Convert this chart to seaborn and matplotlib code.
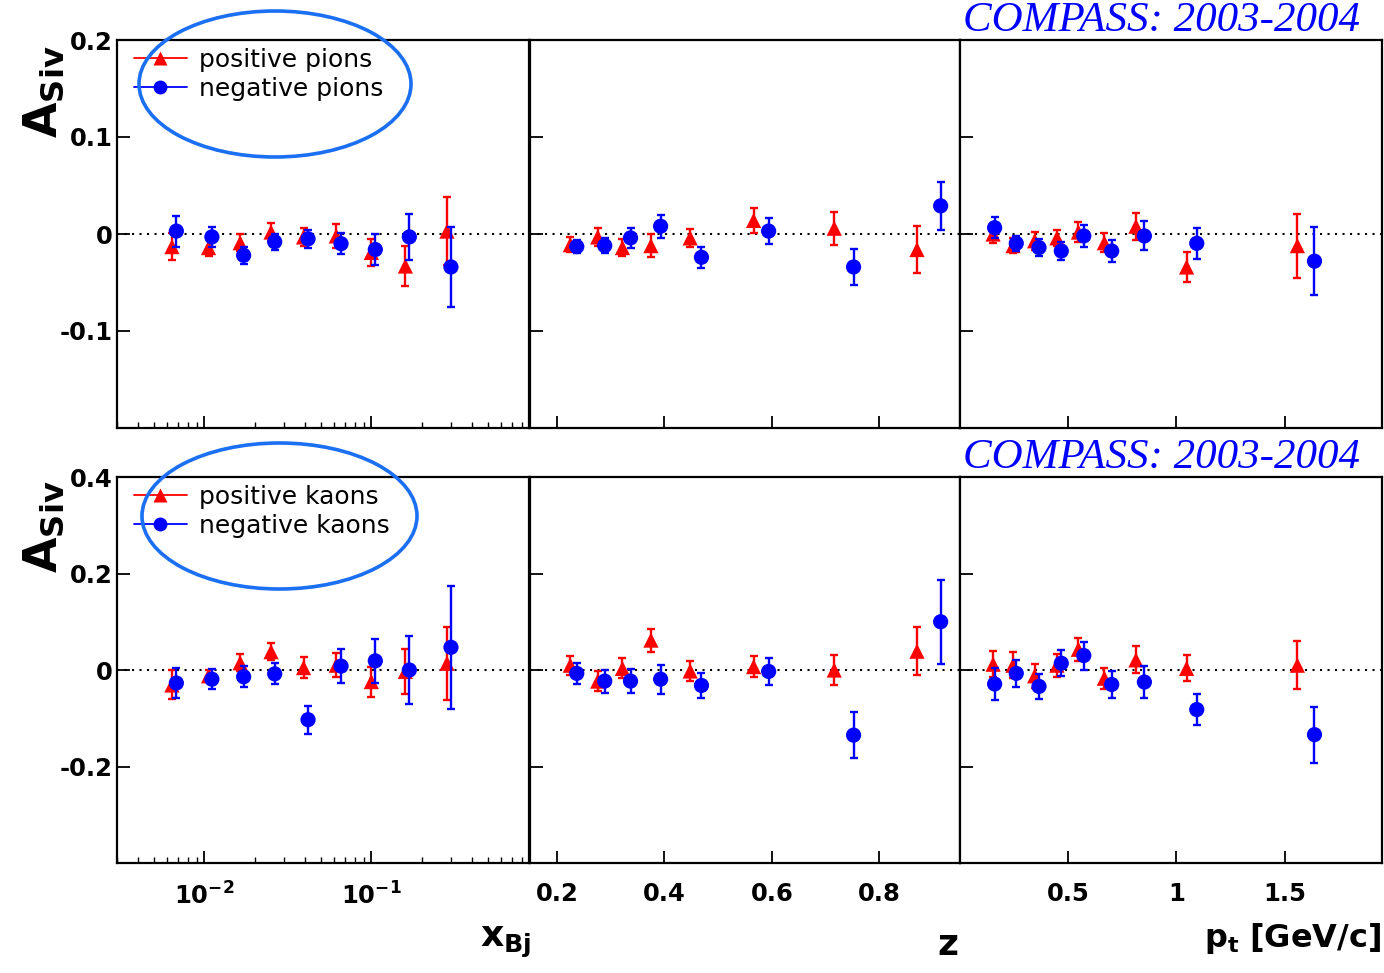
import numpy as np
import pandas as pd
import matplotlib
matplotlib.use("Agg")
import matplotlib.pyplot as plt
import seaborn as sns
from matplotlib.patches import Ellipse
from matplotlib.lines import Line2D
from matplotlib.ticker import LogLocator, FixedLocator, NullFormatter

# ---------------- data ----------------
# bin centres (positive hadrons / negative hadrons slightly shifted)
xbj_pos = [0.0064, 0.0106, 0.0164, 0.0251, 0.0393, 0.0617, 0.100, 0.160, 0.284]
xbj_neg = [0.0068, 0.0111, 0.0172, 0.0264, 0.0418, 0.0659, 0.1057, 0.169, 0.300]
z_pos = [0.225, 0.276, 0.322, 0.375, 0.448, 0.566, 0.716, 0.870]
z_neg = [0.237, 0.289, 0.337, 0.393, 0.469, 0.594, 0.752, 0.914]
pt_pos = [0.153, 0.245, 0.345, 0.448, 0.547, 0.667, 0.813, 1.047, 1.559]
pt_neg = [0.160, 0.260, 0.365, 0.468, 0.572, 0.701, 0.852, 1.094, 1.638]

# pions
pip_xbj = [-0.013, -0.014, -0.009, 0.002, -0.003, -0.002, -0.019, -0.033, 0.003]
pip_xbj_err = [0.014, 0.009, 0.009, 0.009, 0.009, 0.012, 0.014, 0.021, 0.035]
pim_xbj = [0.003, -0.003, -0.022, -0.008, -0.005, -0.010, -0.016, -0.003, -0.034]
pim_xbj_err = [0.016, 0.010, 0.009, 0.008, 0.009, 0.011, 0.016, 0.024, 0.041]

pip_z = [-0.011, -0.003, -0.014, -0.012, -0.004, 0.014, 0.006, -0.016]
pip_z_err = [0.008, 0.009, 0.009, 0.012, 0.009, 0.013, 0.017, 0.024]
pim_z = [-0.013, -0.012, -0.004, 0.008, -0.024, 0.003, -0.034, 0.029]
pim_z_err = [0.0065, 0.008, 0.010, 0.012, 0.011, 0.013, 0.019, 0.025]

pip_pt = [0.000, -0.012, -0.007, -0.004, 0.002, -0.009, 0.008, -0.034, -0.012]
pip_pt_err = [0.009, 0.008, 0.009, 0.008, 0.010, 0.010, 0.014, 0.015, 0.033]
pim_pt = [0.0065, -0.0096, -0.014, -0.0175, -0.002, -0.0175, -0.002, -0.0096, -0.028]
pim_pt_err = [0.011, 0.008, 0.009, 0.009, 0.011, 0.011, 0.015, 0.016, 0.035]

# kaons
kp_xbj = [-0.031, -0.012, 0.015, 0.038, 0.005, 0.010, -0.024, -0.003, 0.014]
kp_xbj_err = [0.030, 0.013, 0.018, 0.018, 0.022, 0.025, 0.031, 0.047, 0.076]
km_xbj = [-0.027, -0.019, -0.014, -0.008, -0.103, 0.008, 0.019, 0.000, 0.047]
km_xbj_err = [0.031, 0.021, 0.022, 0.022, 0.029, 0.035, 0.046, 0.071, 0.128]

kp_z = [0.010, -0.023, 0.0034, 0.062, -0.002, 0.007, 0.000, 0.039]
kp_z_err = [0.020, 0.021, 0.021, 0.024, 0.020, 0.021, 0.032, 0.050]
km_z = [-0.007, -0.023, -0.023, -0.019, -0.032, -0.003, -0.135, 0.100]
km_z_err = [0.022, 0.024, 0.025, 0.030, 0.025, 0.028, 0.048, 0.087]

kp_pt = [0.012, 0.010, -0.012, 0.010, 0.043, -0.017, 0.021, 0.0034, 0.010]
kp_pt_err = [0.027, 0.027, 0.025, 0.024, 0.024, 0.022, 0.028, 0.027, 0.050]
km_pt = [-0.029, -0.007, -0.034, 0.014, 0.030, -0.030, -0.025, -0.082, -0.134]
km_pt_err = [0.033, 0.028, 0.026, 0.027, 0.029, 0.027, 0.033, 0.033, 0.058]

legend_pions = ["positive pions", "negative pions"]
legend_kaons = ["positive kaons", "negative kaons"]
title_text = "COMPASS: 2003-2004"
top_yticks = [-0.1, 0.0, 0.1, 0.2]
top_ylabels = ["-0.1", "0", "0.1", "0.2"]
bot_yticks = [-0.2, 0.0, 0.2, 0.4]
bot_ylabels = ["-0.2", "0", "0.2", "0.4"]
z_ticks = [0.2, 0.4, 0.6, 0.8]
z_labels = ["0.2", "0.4", "0.6", "0.8"]
pt_ticks = [0.5, 1.0, 1.5]
pt_labels = ["0.5", "1", "1.5"]
xbj_ticks = [0.01, 0.1]
xbj_labels = [r"$\mathbf{10^{-2}}$", r"$\mathbf{10^{-1}}$"]

# ---------------- style ----------------
sns.set_style("ticks")
plt.rcParams["font.family"] = ["DejaVu Sans"]
plt.rcParams["mathtext.fontset"] = "dejavusans"
for key in ["text.color", "axes.labelcolor", "xtick.color", "ytick.color",
            "axes.edgecolor"]:
    plt.rcParams[key] = "black"

W, H = 1384, 973
fig = plt.figure(figsize=(W / 100, H / 100), dpi=100)
fig.patch.set_facecolor("white")


def fx(px):
    return px / W


def fy(py):
    return 1 - py / H


cols = [(117, 529), (530, 960), (960, 1382)]
rows = [(40, 428), (477, 863)]

RED = "#ff0000"
BLUE = "#0000ff"


def draw(ax, xp, yp, ep, xm, ym, em):
    ax.axhline(0, color="black", ls=(0, (1, 2.6)), lw=1.5, zorder=1)
    ax.errorbar(xp, yp, yerr=ep, fmt="none", ecolor=RED, elinewidth=1.7,
                capsize=3.2, capthick=1.7, zorder=2)
    dfp = pd.DataFrame({"x": xp, "y": yp})
    sns.scatterplot(data=dfp, x="x", y="y", marker="^", color=RED, s=120,
                    edgecolor="none", linewidth=0, ax=ax, zorder=3, legend=False)
    ax.errorbar(xm, ym, yerr=em, fmt="none", ecolor=BLUE, elinewidth=1.7,
                capsize=3.2, capthick=1.7, zorder=4)
    dfm = pd.DataFrame({"x": xm, "y": ym})
    sns.scatterplot(data=dfm, x="x", y="y", marker="o", color=BLUE, s=120,
                    edgecolor="none", linewidth=0, ax=ax, zorder=5, legend=False)
    ax.set_xlabel("")
    ax.set_ylabel("")


panels = [
    [(xbj_pos, pip_xbj, pip_xbj_err, xbj_neg, pim_xbj, pim_xbj_err),
     (z_pos, pip_z, pip_z_err, z_neg, pim_z, pim_z_err),
     (pt_pos, pip_pt, pip_pt_err, pt_neg, pim_pt, pim_pt_err)],
    [(xbj_pos, kp_xbj, kp_xbj_err, xbj_neg, km_xbj, km_xbj_err),
     (z_pos, kp_z, kp_z_err, z_neg, km_z, km_z_err),
     (pt_pos, kp_pt, kp_pt_err, pt_neg, km_pt, km_pt_err)],
]

for r, (rt, rb) in enumerate(rows):
    for c, (cl, cr) in enumerate(cols):
        ax = fig.add_axes([fx(cl), fy(rb), fx(cr - cl), (rb - rt) / H])
        ax.set_facecolor("white")
        draw(ax, *panels[r][c])
        if c == 0:
            ax.set_xscale("log")
            ax.set_xlim(0.003, 0.88)
            ax.xaxis.set_major_locator(FixedLocator(xbj_ticks))
            ax.xaxis.set_minor_locator(LogLocator(base=10, subs=np.arange(2, 10)))
            ax.xaxis.set_minor_formatter(NullFormatter())
            ax.set_xticks(xbj_ticks, labels=xbj_labels if r == 1 else ["", ""])
        elif c == 1:
            ax.set_xlim(0.15, 0.95)
            ax.set_xticks(z_ticks, labels=z_labels if r == 1 else [""] * 4)
        else:
            ax.set_xlim(0.0, 1.95)
            ax.set_xticks(pt_ticks, labels=pt_labels if r == 1 else [""] * 3)
        if r == 0:
            ax.set_ylim(-0.2, 0.2)
            ax.set_yticks(top_yticks, labels=top_ylabels if c == 0 else [""] * 4)
        else:
            ax.set_ylim(-0.4, 0.4)
            ax.set_yticks(bot_yticks, labels=bot_ylabels if c == 0 else [""] * 4)
        for lab in ax.get_xticklabels() + ax.get_yticklabels():
            lab.set_fontsize(17.5)
            lab.set_fontweight("bold")
            lab.set_color("black")
        ax.tick_params(axis="both", which="major", direction="in", length=9,
                       width=1.3, color="black", top=False, right=False)
        ax.tick_params(axis="x", which="major", pad=14)
        ax.tick_params(axis="y", which="major", pad=3)
        ax.tick_params(axis="x", which="minor", direction="in", length=4.5,
                       width=1.0, top=False, color="black")
        for s in ax.spines.values():
            s.set_visible(True)
            s.set_linewidth(1.6)
            s.set_color("black")

        if c == 0:
            labels = legend_pions if r == 0 else legend_kaons
            handles = [
                Line2D([], [], color=RED, marker="^", ms=10, lw=1.3, mec="none"),
                Line2D([], [], color=BLUE, marker="o", ms=10, lw=1.3, mec="none"),
            ]
            leg = ax.legend(handles, labels, loc="upper left",
                            bbox_to_anchor=((134 - cl) / (cr - cl), 1 - 8 / (rb - rt)),
                            frameon=False, fontsize=18, handlelength=2.1,
                            handletextpad=0.5, labelspacing=0.2, borderpad=0,
                            borderaxespad=0)
            for t in leg.get_texts():
                t.set_color("black")

# ellipses around legends
for (cx, cy, ew, eh) in [(275, 84, 272, 146), (279.5, 516, 275, 146)]:
    e = Ellipse((fx(cx), fy(cy)), ew / W, eh / H, transform=fig.transFigure,
                fill=False, edgecolor="#1a6ff2", lw=2.6, zorder=20, clip_on=False)
    fig.patches.append(e)

# titles
for ty in [21, 458]:
    fig.text(fx(1360), fy(ty), title_text, ha="right", va="center",
             color=BLUE, fontsize=31, fontstyle="italic",
             family=["Liberation Serif", "DejaVu Serif"])

# y axis titles
for ty in [92, 527]:
    fig.text(fx(44), fy(ty), r"$\mathbf{A}_{\mathbf{Siv}}$", rotation=90,
             ha="center", va="center", fontsize=33, color="black")

# x axis titles
fig.text(fx(531), fy(947), r"$\mathbf{x}_{\mathbf{Bj}}$", ha="right",
         va="baseline", fontsize=26, color="black")
fig.text(fx(958), fy(955), r"$\mathbf{z}$", ha="right", va="baseline",
         fontsize=26, color="black")
fig.text(fx(1381), fy(947), r"$\mathbf{p}_{\mathbf{t}}\ \mathbf{[GeV/c]}$",
         ha="right", va="baseline", fontsize=23, color="black")

fig.savefig("out.png", dpi=100, facecolor="white")
